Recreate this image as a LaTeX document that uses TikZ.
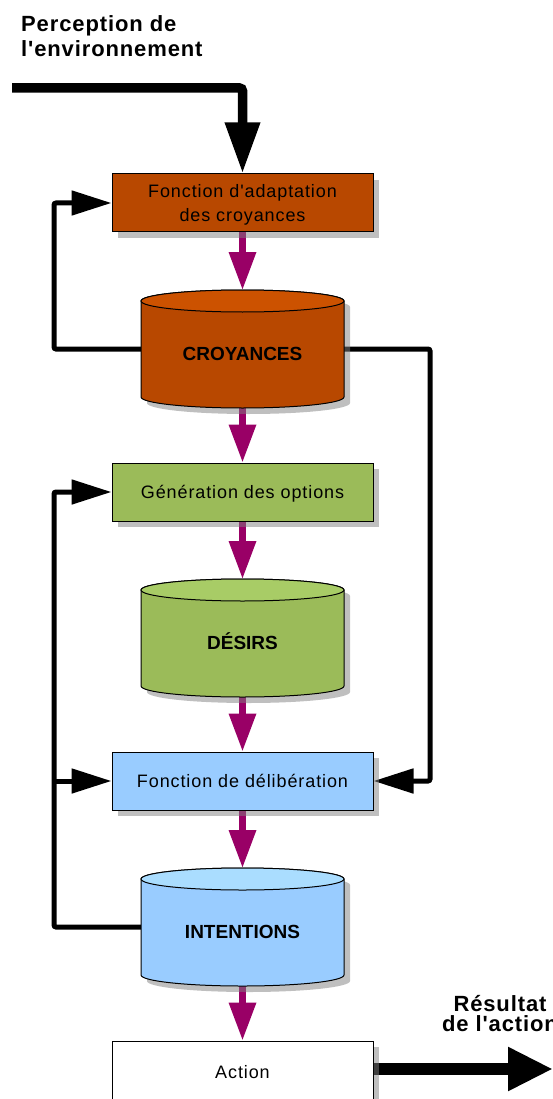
\documentclass[tikz,border=0pt]{standalone}
\usepackage{fontspec}
\setmainfont{Liberation Sans}
\newfontfamily\boxfont{Liberation Sans}[LetterSpace=5]
\newfontfamily\ttlfont{Liberation Sans}[LetterSpace=4]
\usetikzlibrary{arrows.meta,shadows}
\pgfdeclarelayer{bg}
\pgfdeclarelayer{paper}
\pgfsetlayers{paper,bg,main}
\definecolor{brownc}{HTML}{B84800}
\definecolor{browntop}{HTML}{CC5200}
\definecolor{greenc}{HTML}{9BBB59}
\definecolor{greentop}{HTML}{A8CC66}
\definecolor{bluec}{HTML}{99CCFF}
\definecolor{bluetop}{HTML}{AADDFF}
\definecolor{purp}{HTML}{990066}
\newcommand\drawcyl[3]{%
  \fill[black!50,opacity=.5] ([shift={(6,6)}]#1.north west) ++(0,11) -- ++(0,96)
    arc[start angle=180,end angle=360,x radius=101.5pt,y radius=11pt] -- ++(0,-96)
    arc[start angle=0,end angle=180,x radius=101.5pt,y radius=11pt] -- cycle;
  \filldraw[fill=#2,draw=black,line width=1pt] (#1.north west) ++(0,11) -- ++(0,96)
    arc[start angle=180,end angle=360,x radius=101.5pt,y radius=11pt] -- ++(0,-96)
    arc[start angle=0,end angle=180,x radius=101.5pt,y radius=11pt] -- cycle;
  \filldraw[fill=#3,draw=black,line width=1pt] ([shift={(0,11)}]#1.north) ellipse[x radius=101.5pt,y radius=11pt];
}
\tikzset{
  boxn/.style={draw=black, line width=1pt, minimum width=261pt, minimum height=58pt,
    inner sep=0pt, font=\boxfont\fontsize{18}{24}\selectfont, text height=12.9pt, text depth=0pt,
    drop shadow={shadow xshift=6pt, shadow yshift=-6pt, fill=black!50, opacity=.5}},
  cyln/.style={minimum width=203pt, minimum height=118pt, inner sep=0pt, outer sep=0pt},
  lbl/.style={font=\bfseries\fontsize{19}{19}\selectfont, anchor=base, inner sep=0pt},
  parrow/.style={draw=purp, line width=6.5pt, -{Triangle[length=38pt,width=26pt]}},
  looparrow/.style={line width=5pt, rounded corners=2pt, -{Triangle[length=40pt,width=24pt]}},
  bigin/.style={line width=9.5pt, rounded corners=3pt, -{Triangle[length=51pt,width=33pt]}},
  bigout/.style={line width=12pt, -{Triangle[length=45pt,width=41pt]}},
  ttl/.style={font=\ttlfont\bfseries\fontsize{22}{25}\selectfont, inner sep=0pt, align=left}
}
\begin{document}
\begin{tikzpicture}[x=1pt,y=-1pt]
\useasboundingbox (0,0) rectangle (553,1099);
\begin{pgfonlayer}{paper}
\fill[white] (0,0) rectangle (553,1099);
\end{pgfonlayer}
% nodes
\node[boxn, fill=brownc, align=center, text height=36.9pt] (A) at (242.5,203) {Fonction d'adaptation\\des croyances};
\node[cyln] (c1) at (242.5,349) {};
\node[boxn, fill=greenc] (B) at (242.5,492) {Génération des options};
\node[cyln] (c2) at (242.5,638) {};
\node[boxn, fill=bluec] (D) at (242.5,781) {Fonction de délibération};
\node[cyln] (c3) at (242.5,927) {};
\node[boxn, fill=white, minimum height=62pt] (E) at (242.5,1072) {Action};
\drawcyl{c1}{brownc}{browntop}
\drawcyl{c2}{greenc}{greentop}
\drawcyl{c3}{bluec}{bluetop}
\node[lbl] (l1) at (242.5,360) {CROYANCES};
\node[lbl] (l2) at (242.5,649) {DÉSIRS};
\node[lbl] (l3) at (242.5,938) {INTENTIONS};
\node[ttl, anchor=base west] (t1) at (21,56.5) {Perception de\\l'environnement};
\node[ttl, align=center, anchor=base, font=\ttlfont\bfseries\fontsize{22}{20}\selectfont] (t2) at (500,1031) {Résultat\\de l'action};
% coordinates
\coordinate (lx) at (54,0);
\coordinate (rx) at (430,0);
\coordinate (pin) at (12,88);
\coordinate (pout) at (553,1069);
\begin{pgfonlayer}{bg}
\draw[bigin] (pin) -| (A.north);
\draw[parrow] (A.south) -- (c1.north);
\draw[parrow] (c1.south) -- (B.north);
\draw[parrow] (B.south) -- (c2.north);
\draw[parrow] (c2.south) -- (D.north);
\draw[parrow] (D.south) -- (c3.north);
\draw[parrow] (c3.south) -- (E.north);
\draw[looparrow] (c1.west) -- (c1.west -| lx) |- (A.west);
\draw[looparrow] (c1.east) -- (c1.east -| rx) |- (D.east);
\draw[looparrow] (c3.west) -- (c3.west -| lx) |- (B.west);
\draw[looparrow] (D.west -| lx) -- (D.west);
\draw[bigout] (E.east |- pout) -- (pout);
\end{pgfonlayer}
\end{tikzpicture}
\end{document}
